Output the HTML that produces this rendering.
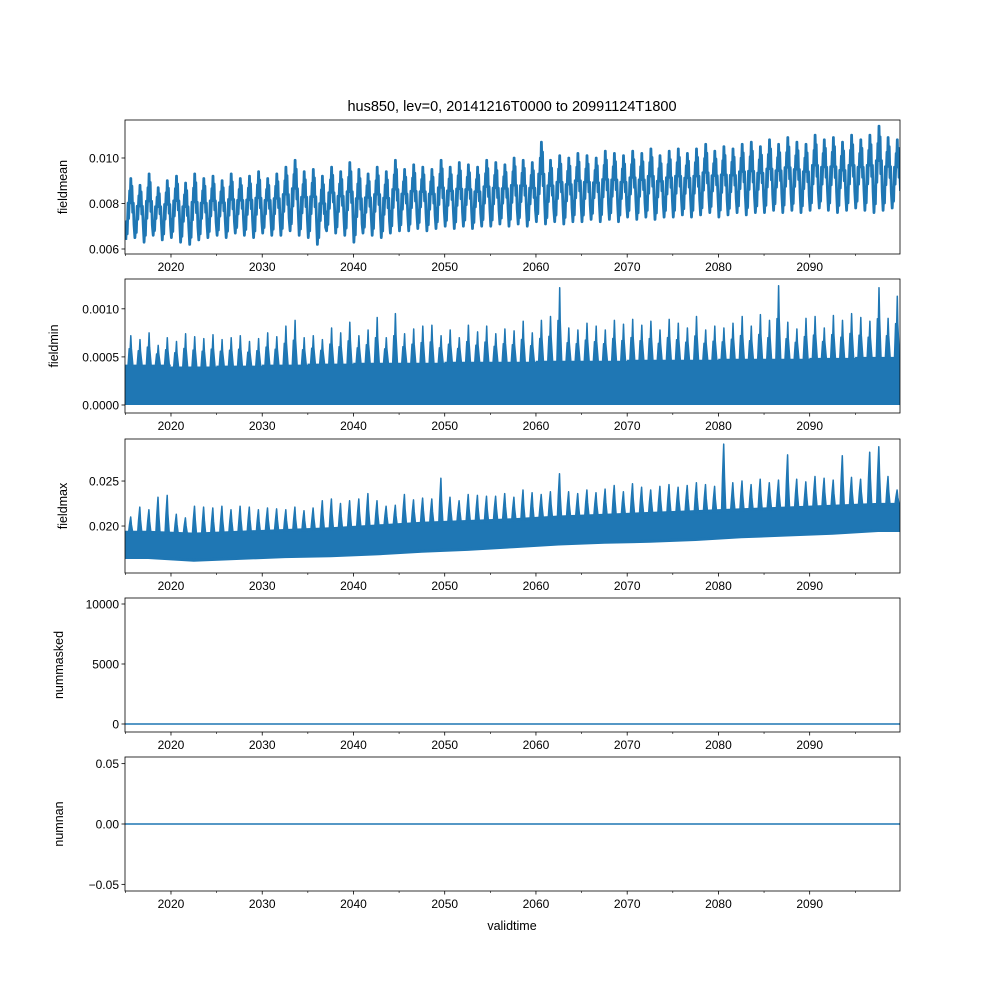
<!DOCTYPE html>
<html><head><meta charset="utf-8">
<style>
html,body{margin:0;padding:0;background:#fff;}
svg{display:block;font-family:"Liberation Sans","DejaVu Sans",sans-serif;}
</style></head>
<body>
<svg id="chart" width="1000" height="1000" viewBox="0 0 1000 1000" xmlns="http://www.w3.org/2000/svg">
<rect width="1000" height="1000" fill="#fff"/>
<text x="512" y="111" font-size="14.5" text-anchor="middle">hus850, lev=0, 20141216T0000 to 20991124T1800</text>
<text x="512" y="930" font-size="12.5" text-anchor="middle">validtime</text>
</svg>
<script>
// ---- data ----
const startYear = 2015;
const xTicks = [2020, 2030, 2040, 2050, 2060, 2070, 2080, 2090];
const xMinorTicks = [2015, 2025, 2035, 2045, 2055, 2065, 2075, 2085, 2095];
const meanPeak = [0.0091,0.0088,0.0093,0.0087,0.0090,0.0092,0.0089,0.0093,0.0091,0.0092,
0.0090,0.0093,0.0091,0.0092,0.0094,0.0091,0.0093,0.0096,0.0099,0.0094,
0.0095,0.0092,0.0096,0.0094,0.0098,0.0095,0.0093,0.0096,0.0094,0.0099,
0.0095,0.0097,0.0096,0.0095,0.0099,0.0096,0.0098,0.0097,0.0096,0.0099,
0.0098,0.0097,0.0100,0.0099,0.0098,0.0107,0.0099,0.0101,0.0100,0.0102,
0.0101,0.0100,0.0103,0.0102,0.0101,0.0103,0.0102,0.0104,0.0101,0.0103,
0.0104,0.0102,0.0104,0.0106,0.0103,0.0105,0.0104,0.0106,0.0107,0.0105,
0.0108,0.0106,0.0109,0.0107,0.0106,0.0110,0.0108,0.0109,0.0107,0.0110,
0.0108,0.0110,0.0114,0.0109,0.0108];
const meanTrough = [0.0064,0.0065,0.0063,0.0066,0.0064,0.0065,0.0063,0.0062,0.0064,0.0065,
0.0066,0.0065,0.0067,0.0066,0.0065,0.0067,0.0066,0.0066,0.0068,0.0066,
0.0065,0.0062,0.0068,0.0067,0.0066,0.0063,0.0067,0.0066,0.0065,0.0067,
0.0068,0.0068,0.0069,0.0068,0.0069,0.0070,0.0069,0.0070,0.0069,0.0070,
0.0070,0.0071,0.0070,0.0071,0.0070,0.0072,0.0071,0.0072,0.0071,0.0072,
0.0072,0.0073,0.0072,0.0073,0.0072,0.0074,0.0073,0.0074,0.0073,0.0074,
0.0074,0.0075,0.0074,0.0075,0.0076,0.0074,0.0075,0.0076,0.0075,0.0076,
0.0076,0.0077,0.0076,0.0077,0.0076,0.0077,0.0078,0.0077,0.0076,0.0077,
0.0078,0.0077,0.0076,0.0077,0.0078];
const minPeak = [0.00072,0.00068,0.00075,0.00062,0.00070,0.00066,0.00074,0.00071,0.00069,0.00073,
0.00068,0.00070,0.00072,0.00066,0.00069,0.00075,0.00071,0.00082,0.00088,0.00070,
0.00072,0.00068,0.00080,0.00075,0.00086,0.00072,0.00078,0.00091,0.00070,0.00095,
0.00074,0.00079,0.00082,0.00083,0.00072,0.00078,0.00070,0.00083,0.00076,0.00082,
0.00074,0.00079,0.00077,0.00087,0.00075,0.00088,0.00092,0.00122,0.00080,0.00078,
0.00085,0.00082,0.00078,0.00088,0.00084,0.00089,0.00083,0.00087,0.00078,0.00089,
0.00085,0.00080,0.00092,0.00078,0.00082,0.00080,0.00085,0.00092,0.00082,0.00094,
0.00088,0.00124,0.00086,0.00079,0.00090,0.00092,0.00080,0.00093,0.00088,0.00095,
0.00091,0.00087,0.00122,0.00090,0.00113];
const minBand = [0.00042,0.00040,0.00041,0.00042,0.00043,0.00044,0.00044,0.00045,0.00045,0.00046,0.00046,0.00047,0.00047,0.00048,0.00048,0.00049,0.00050];
const maxLow = [0.0165,0.0162,0.0164,0.0166,0.0167,0.0169,0.0172,0.0174,0.0177,0.0180,0.0182,0.0183,0.0185,0.0188,0.0190,0.0192,0.0195];
const maxHigh = [0.0193,0.0191,0.0193,0.0195,0.0197,0.0200,0.0203,0.0205,0.0207,0.0210,0.0212,0.0214,0.0216,0.0218,0.0220,0.0222,0.0224];
const maxPeak = [0.0210,0.0221,0.0218,0.0232,0.0234,0.0213,0.0209,0.0222,0.0221,0.0220,
0.0222,0.0218,0.0222,0.0221,0.0218,0.0220,0.0219,0.0218,0.0221,0.0217,
0.0220,0.0228,0.0230,0.0225,0.0228,0.0230,0.0236,0.0228,0.0222,0.0223,
0.0235,0.0229,0.0231,0.0230,0.0253,0.0232,0.0228,0.0235,0.0234,0.0233,
0.0233,0.0236,0.0232,0.0240,0.0237,0.0235,0.0238,0.0258,0.0238,0.0236,
0.0240,0.0237,0.0241,0.0245,0.0238,0.0247,0.0243,0.0240,0.0244,0.0246,
0.0243,0.0245,0.0248,0.0246,0.0244,0.0291,0.0248,0.0250,0.0246,0.0252,
0.0248,0.0251,0.0279,0.0252,0.0249,0.0255,0.0253,0.0251,0.0278,0.0254,
0.0252,0.0282,0.0288,0.0255,0.0240];
const maskedValues = [0, 0];
const nanValues = [0, 0];

// ---- layout ----
const X0 = 125, X1 = 900, T0 = 2014.96, T1 = 2099.9;
const xs = t => X0 + (t - T0) / (T1 - T0) * (X1 - X0);
const NS = 'http://www.w3.org/2000/svg';
const svg = document.getElementById('chart');
const BLUE = '#1f77b4';
function mk(tag, attrs, parent) {
  const e = document.createElementNS(NS, tag);
  for (const k in attrs) e.setAttribute(k, attrs[k]);
  (parent || svg).appendChild(e);
  return e;
}
const panels = [
  {name:'fieldmean', top:120, bot:254, lo:0.00578, hi:0.01167, ticks:[0.006,0.008,0.010], fmt:v=>v.toFixed(3), labX:67},
  {name:'fieldmin', top:279, bot:413, lo:-0.0000833, hi:0.00131, ticks:[0,0.0005,0.0010], fmt:v=>v.toFixed(4), labX:58},
  {name:'fieldmax', top:439, bot:573, lo:0.01478, hi:0.02967, ticks:[0.020,0.025], fmt:v=>v.toFixed(3), labX:67},
  {name:'nummasked', top:598, bot:732, lo:-667, hi:10500, ticks:[0,5000,10000], fmt:v=>String(v), labX:63},
  {name:'numnan', top:757, bot:891, lo:-0.0555, hi:0.0555, ticks:[-0.05,0,0.05], fmt:v=>v.toFixed(2).replace('-','−'), labX:63}
];
panels.forEach((p, i) => {
  p.ys = v => p.bot - (v - p.lo) / (p.hi - p.lo) * (p.bot - p.top);
  const g = mk('g', {});
  
  
  const clipId = 'clip' + i;
  const cp = mk('clipPath', {id: clipId}, g);
  mk('rect', {x: X0, y: p.top, width: X1 - X0, height: p.bot - p.top}, cp);
  const plot = mk('g', {'clip-path': 'url(#' + clipId + ')'}, g);
  
  
  p.plot = plot;
  p.ticks.forEach(v => {
    const y = p.ys(v);
    mk('line', {x1: X0 - 3.5, x2: X0, y1: y, y2: y, stroke: '#000', 'stroke-width': 0.8}, g);
    const t = mk('text', {x: X0 - 6, y: y + 4.5, 'font-size': 12, 'text-anchor': 'end'}, g);
    t.textContent = p.fmt(v);
    
    
  });
  xTicks.forEach(yr => {
    const x = xs(yr);
    mk('line', {x1: x, x2: x, y1: p.bot, y2: p.bot + 3.5, stroke: '#000', 'stroke-width': 0.8}, g);
    const t = mk('text', {x: x, y: p.bot + 17, 'font-size': 12, 'text-anchor': 'middle'}, g);
    t.textContent = yr;
    
    
  });
  xMinorTicks.forEach(yr => {
    const x = xs(yr);
    mk('line', {x1: x, x2: x, y1: p.bot, y2: p.bot + 2, stroke: '#000', 'stroke-width': 0.6}, g);
  });
  const lab = mk('text', {x: p.labX, y: (p.top + p.bot) / 2, 'font-size': 12.5, 'text-anchor': 'middle',
    transform: 'rotate(-90 ' + p.labX + ' ' + (p.top + p.bot) / 2 + ')'}, g);
  lab.textContent = p.name;
  
  
  p.frame = g;
});

// fieldmean
(function(){
  const p = panels[0]; const n = Math.min(meanPeak.length, meanTrough.length);
  let d = '';
  for (let i = 0; i < n; i++) {
    const y = startYear + i;
    const pk = meanPeak[i], tr = meanTrough[i], mid = (pk + tr) / 2;
    const pts = [[y + 0.05, tr], [y + 0.15, mid - (mid - tr) * 0.4], [y + 0.2, tr + (mid - tr) * 0.2],
                 [y + 0.3, mid + (pk - mid) * 0.2], [y + 0.36, mid - (mid - tr) * 0.3],
                 [y + 0.48, mid + (pk - mid) * 0.6], [y + 0.52, mid + (pk - mid) * 0.2],
                 [y + 0.6, pk], [y + 0.66, mid + (pk - mid) * 0.4], [y + 0.72, mid + (pk - mid) * 0.75],
                 [y + 0.8, mid - (mid - tr) * 0.1], [y + 0.87, mid + (pk - mid) * 0.2], [y + 0.95, mid - (mid - tr) * 0.5]];
    pts.forEach((q, j) => { d += (i === 0 && j === 0 ? 'M' : 'L') + xs(q[0]).toFixed(1) + ',' + p.ys(q[1]).toFixed(1); });
  }
  const path = mk('path', {d: d, fill: 'none', stroke: BLUE, 'stroke-width': 2.8, 'stroke-linejoin': 'round'}, p.plot);
  
  
})();

// fieldmin
(function(){
  const p = panels[1];
  let d = 'M' + xs(T0) + ',' + p.ys(0);
  minBand.forEach((v, i) => {
    d += 'L' + xs(startYear + i * 5 - 0.05).toFixed(1) + ',' + p.ys(v).toFixed(1);
    d += 'L' + xs(startYear + i * 5 + 5).toFixed(1) + ',' + p.ys(v).toFixed(1);
  });
  d += 'L' + xs(T1 + 1) + ',' + p.ys(0) + 'Z';
  const band = mk('path', {d: d, fill: BLUE, stroke: 'none'}, p.plot);
  
  
  let s = '';
  minPeak.forEach((v, i) => {
    const y = startYear + i;
    const b = minBand[Math.min(Math.floor(i / 5), minBand.length - 1)];
    const hi = b + (v - b) * 0.55;
    s += 'M' + xs(y + 0.3).toFixed(1) + ',' + p.ys(b).toFixed(1) +
         'L' + xs(y + 0.42).toFixed(1) + ',' + p.ys(hi).toFixed(1) +
         'L' + xs(y + 0.5).toFixed(1) + ',' + p.ys(b + (hi - b) * 0.6).toFixed(1) +
         'L' + xs(y + 0.6).toFixed(1) + ',' + p.ys(v).toFixed(1) +
         'L' + xs(y + 0.66).toFixed(1) + ',' + p.ys(hi).toFixed(1) +
         'L' + xs(y + 0.82).toFixed(1) + ',' + p.ys(b).toFixed(1) + 'Z';
  });
  const sp = mk('path', {d: s, fill: BLUE, stroke: BLUE, 'stroke-width': 1.5, 'stroke-linejoin': 'round'}, p.plot);
  
  
})();

// fieldmax
(function(){
  const p = panels[2];
  let up = '';
  maxHigh.forEach((v, i) => {
    up += (i === 0 ? 'M' + xs(T0 - 1).toFixed(1) + ',' + p.ys(v).toFixed(1) : '') + 'L' + xs(startYear + i * 5 + 2.5).toFixed(1) + ',' + p.ys(v).toFixed(1);
  });
  const pts = [];
  maxLow.forEach((v, i) => pts.push(xs(startYear + i * 5 + 2.5).toFixed(1) + ',' + p.ys(v).toFixed(1)));
  const dn = 'L' + xs(T1 + 1).toFixed(1) + ',' + p.ys(maxHigh[maxHigh.length - 1]).toFixed(1) +
       'L' + xs(T1 + 1).toFixed(1) + ',' + p.ys(maxLow[maxLow.length - 1]).toFixed(1) +
       'L' + pts.reverse().join('L') + 'L' + xs(T0 - 1).toFixed(1) + ',' + p.ys(maxLow[0]).toFixed(1) + 'Z';
  const band = mk('path', {d: up + dn, fill: BLUE, stroke: BLUE, 'stroke-width': 3}, p.plot);
  
  
  let s = '';
  maxPeak.forEach((v, i) => {
    const y = startYear + i;
    const base = maxHigh[Math.min(Math.floor(i / 5), maxHigh.length - 1)];
    const hi = base + (v - base) * 0.5;
    s += 'M' + xs(y + 0.35).toFixed(1) + ',' + p.ys(base).toFixed(1) +
         'L' + xs(y + 0.45).toFixed(1) + ',' + p.ys(hi).toFixed(1) +
         'L' + xs(y + 0.58).toFixed(1) + ',' + p.ys(v).toFixed(1) +
         'L' + xs(y + 0.66).toFixed(1) + ',' + p.ys(hi).toFixed(1) +
         'L' + xs(y + 0.8).toFixed(1) + ',' + p.ys(base).toFixed(1) + 'Z';
  });
  const sp = mk('path', {d: s, fill: BLUE, stroke: BLUE, 'stroke-width': 1.5, 'stroke-linejoin': 'round'}, p.plot);
  
  
})();

// nummasked & numnan
[[3, maskedValues, 'nummasked-line'], [4, nanValues, 'numnan-line']].forEach(([k, arr, nm]) => {
  const p = panels[k];
  const l = mk('line', {x1: xs(T0), x2: xs(T1), y1: p.ys(arr[0]), y2: p.ys(arr[arr.length - 1]), stroke: BLUE, 'stroke-width': 1.6}, p.plot);
  
  
});

panels.forEach(p => {
  const r = mk('rect', {x: X0, y: p.top, width: X1 - X0, height: p.bot - p.top, fill: 'none', stroke: '#000', 'stroke-width': 0.8}, p.frame);
  
  
});
</script>
</body></html>
